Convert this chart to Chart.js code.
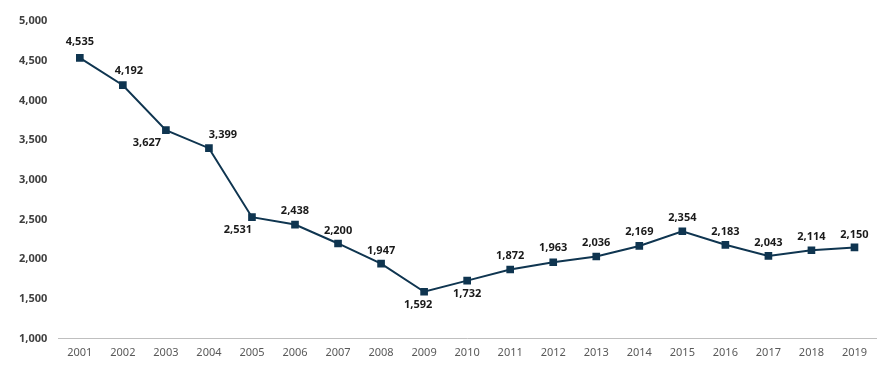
<!DOCTYPE html>
<html>
<head>
<meta charset="utf-8">
<script src="https://cdn.jsdelivr.net/npm/chart.js@4"></script>
<style>
  html, body { margin: 0; padding: 0; background: #fff; }
  #wrap { width: 890px; height: 376px; }
</style>
</head>
<body>
<div id="wrap"><canvas id="chart"></canvas></div>
<script>
const years = ['2001','2002','2003','2004','2005','2006','2007','2008','2009','2010',
  '2011','2012','2013','2014','2015','2016','2017','2018','2019']
const values = [4535, 4192, 3627, 3399, 2531, 2438, 2200, 1947, 1592, 1732,
  1872, 1963, 2036, 2169, 2354, 2183, 2043, 2114, 2150]

const lineColor = '#0f3550'
const fontFamily = "'Noto Sans', 'Open Sans', sans-serif"

// where each value label sits relative to its point: [dx, dy]
const labelOffsets = [
  [0, -16], [6, -14], [-19, 13], [14, -13], [-14, 13], [0, -14], [0, -13], [0, -13],
  [-6, 13], [0, 13], [0, -14], [0, -14], [0, -14], [0, -14], [0, -13], [0, -13],
  [0, -13], [0, -13], [0, -13]
]

const valueLabels = {
  id: 'valueLabels',
  afterDatasetsDraw(chart) {
    const { ctx } = chart
    const meta = chart.getDatasetMeta(0)
    ctx.save()
    ctx.font = `bold 11px ${fontFamily}`
    ctx.fillStyle = '#1a1a1a'
    ctx.textAlign = 'center'
    ctx.textBaseline = 'middle'
    meta.data.forEach((pt, i) => {
      const [dx, dy] = labelOffsets[i]
      ctx.fillText(values[i].toLocaleString('en-US'), pt.x + dx, pt.y + dy)
    })
    ctx.restore()
  }
}

const ctx = document.getElementById('chart').getContext('2d')

new Chart(ctx, {
  type: 'line',
  data: {
    labels: years,
    datasets: [{
      data: values,
      borderColor: lineColor,
      backgroundColor: lineColor,
      borderWidth: 2,
      pointStyle: 'rect',
      pointRadius: 4,
      tension: 0
    }]
  },
  options: {
    responsive: true,
    maintainAspectRatio: false,
    animation: false,
    layout: {
      padding: { top: 21, right: 14, left: 8, bottom: 10 }
    },
    plugins: {
      legend: { display: false },
      tooltip: { enabled: false }
    },
    scales: {
      x: {
        offset: true,
        grid: { display: false, drawTicks: false },
        border: { color: '#bfbfbf', width: 1 },
        ticks: {
          color: '#595959',
          padding: 7,
          font: { size: 11, family: fontFamily }
        }
      },
      y: {
        min: 1000,
        max: 5000,
        grid: { display: false, drawTicks: false },
        border: { display: false },
        ticks: {
          stepSize: 500,
          color: '#404040',
          padding: 11,
          font: { size: 11, weight: 'bold', family: fontFamily },
          callback: (v) => v.toLocaleString('en-US')
        }
      }
    }
  },
  plugins: [valueLabels]
})
</script>
</body>
</html>
